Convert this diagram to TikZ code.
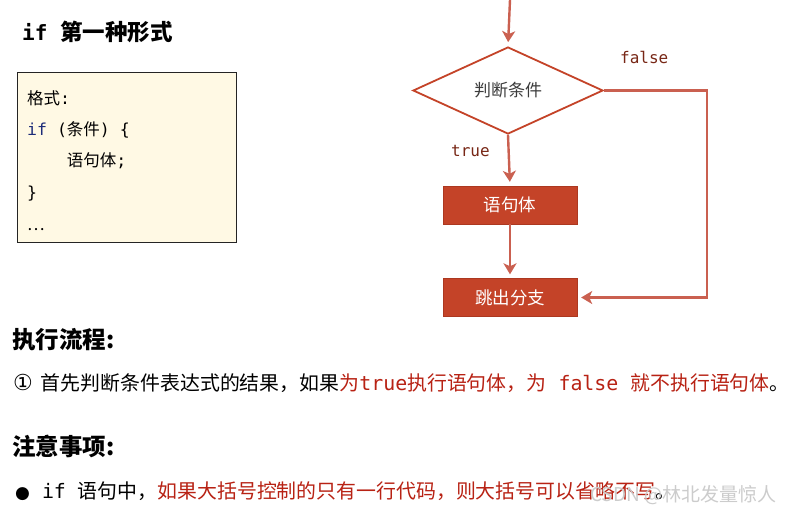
\documentclass[tikz,border=0pt]{standalone}
\usepackage{fontspec}
\setmainfont{Noto Sans CJK SC}
\setmonofont{DejaVu Sans Mono}
\newfontfamily\symfont{DejaVu Sans}
\usepackage{xcolor}
\definecolor{ifRed}{RGB}{196,67,40}
\definecolor{ifRedD}{RGB}{172,56,32}
\definecolor{ifLine}{RGB}{202,96,80}
\definecolor{ifText}{RGB}{184,34,20}
\definecolor{ifNote}{RGB}{255,249,228}
\definecolor{ifNavy}{RGB}{28,44,120}
\definecolor{ifGray}{RGB}{60,60,60}
\usetikzlibrary{positioning,arrows.meta,shapes.geometric}

\begin{document}
\begin{tikzpicture}[x=1pt,y=-1pt,
  fbox/.style={fill=ifRed,draw=ifRedD,minimum width=134pt,minimum height=38pt,inner sep=0pt,text=white,font=\fontsize{17.5}{20}\selectfont},
  cond/.style={diamond,draw=ifRed,line width=1.8pt,fill=white,aspect=2.18,minimum width=190pt,minimum height=87pt,inner sep=0pt,text=ifGray,font=\fontsize{17}{20}\selectfont},
  a/.style={-{Stealth[length=11pt,width=13pt,inset=3pt]},ifLine,line width=2.4pt,shorten >=4pt},
  lbl/.style={anchor=base west,inner sep=0pt,font=\fontsize{16}{19}\ttfamily,text=ifRedD!70!black},
  body/.style={anchor=base west,inner sep=0pt,font=\fontsize{19.9}{24}\selectfont,text=black},
  head/.style={anchor=base west,inner sep=0pt,font=\fontsize{23.5}{27}\selectfont\bfseries,text=black},
  code/.style={anchor=base west,inner sep=0pt,font=\fontsize{16.5}{19}\selectfont,text=black}]
  \useasboundingbox[fill=white] (0,0) rectangle (796,515);

  % left: title and code box
  \node[head] (title) at (22,40) {\ttfamily\bfseries\fontsize{21}{24}\selectfont if\ \rmfamily\fontsize{22.5}{26}\selectfont 第一种形式};
  \node[draw=ifGray!60!black,line width=1.2pt,fill=ifNote,minimum width=219pt,minimum height=170pt,anchor=north west,inner sep=0pt] (codebox) at (17,72) {};
  \node[code] (c1) at (27,104) {格式\texttt{:}};
  \node[code] (c2) at (27,135) {\texttt{\textcolor{ifNavy}{if} (}条件\texttt{) \{}};
  \node[code] (c3) at (27,166) {\texttt{\ \ \ \ }语句体\texttt{;}};
  \node[code] (c4) at (27,198) {\texttt{\}}};
  \node[code] (c5) at (27,230) {…};

  % flowchart
  \coordinate (start) at (510,0);
  \node[cond] (judge) at (508,90.5) {判断条件};
  \node[fbox] (stmt) at (510,205) {语句体};
  \node[fbox] (quit) at (510,297.5) {跳出分支};
  \coordinate (corner1) at (707,90.5);
  \coordinate (corner2) at (707,297.5);
  \draw[a] (start) -- (judge.north);
  \draw[a] (judge.south) -- (stmt.north);
  \draw[a] (stmt.south) -- (quit.north);
  \draw[a] (judge.east) -- (corner1) -- (corner2) -- (quit.east);
  \node[lbl] (lfalse) at (620,63) {false};
  \node[lbl] (ltrue) at (451,156) {true};

  % notes below
  \node[head] (flow) at (12,348) {执行流程:};
  \node[body] (step1) at (13,390) {{\symfont\fontsize{22}{24}\selectfont ①}\hspace{8pt}首先判断条件表达式的结果，如果\textcolor{ifText}{为\texttt{true}执行语句体，为\texttt{ false }就不执行语句体}。};
  \node[head] (note) at (12,455) {注意事项:};
  \node[body] (tip) at (15,498) {{\symfont\fontsize{17}{20}\selectfont ●}\texttt{ if }语句中，\textcolor{ifText}{如果大括号控制的只有一行代码，则大括号可以省略不写}。};
  \node[anchor=base west,inner sep=0pt,font=\fontsize{19}{23}\selectfont,text=black!20] (mark) at (590,501) {CSDN @林北发量惊人};
\end{tikzpicture}
\end{document}
